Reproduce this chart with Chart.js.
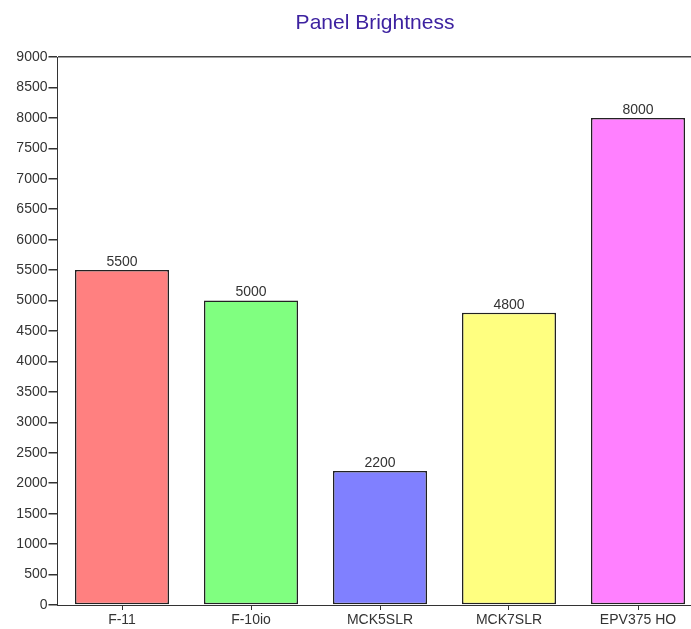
<!DOCTYPE html>
<html>
<head>
<meta charset="utf-8">
<script src="https://cdn.jsdelivr.net/npm/chart.js@4"></script>
<style>
  html, body { margin: 0; padding: 0; background: #fff; overflow: hidden; }
  #wrap { width: 750px; height: 629px; }
</style>
</head>
<body>
<div id="wrap"><canvas id="brightnessChart" width="750" height="629"></canvas></div>
<script>
// données du graphique
const panels = ['F-11', 'F-10io', 'MCK5SLR', 'MCK7SLR', 'EPV375 HO'];
const brightness = [5500, 5000, 2200, 4800, 8000];
const barColors = ['#ff8080', '#80ff80', '#8080ff', '#ffff80', '#ff80ff'];
const yMin = 0, yMax = 9000, yStep = 500;
const chartTitle = 'Panel Brightness';

const FONT = '"Liberation Sans", Arial, sans-serif';

// titre centré sur tout le canvas + valeurs au-dessus des barres
const extras = {
    id: 'extras',
    afterDraw(chart) {
        const ctx = chart.ctx;
        ctx.save();
        ctx.font = '21px ' + FONT;
        ctx.fillStyle = '#3d22a0';
        ctx.textAlign = 'center';
        ctx.textBaseline = 'middle';
        ctx.fillText(chartTitle, chart.width / 2, 23);

        ctx.font = '14px ' + FONT;
        ctx.fillStyle = '#333';
        ctx.textBaseline = 'bottom';
        chart.getDatasetMeta(0).data.forEach((bar, i) => {
            ctx.fillText(String(brightness[i]), bar.x, bar.y - 1);
        });
        ctx.restore();
    }
};

new Chart(document.getElementById('brightnessChart').getContext('2d'), {
    type: 'bar',
    data: {
        labels: panels,
        datasets: [{
            data: brightness,
            backgroundColor: barColors,
            borderColor: '#222',
            borderWidth: 1.5,
            borderSkipped: false,
            categoryPercentage: 1,
            barPercentage: 94 / 129
        }]
    },
    options: {
        responsive: false,
        animation: false,
        layout: { padding: { left: 0, right: 47.5, top: 57, bottom: 0 } },
        plugins: {
            legend: { display: false },
            tooltip: { enabled: false },
            title: { display: false }
        },
        scales: {
            x: {
                offset: true,
                grid: { display: true, drawOnChartArea: false, offset: false, tickColor: '#333', tickLength: 5 },
                border: { color: '#333', width: 1 },
                ticks: { color: '#333', padding: 2, font: { family: FONT, size: 14 } },
                afterFit(scale) { scale.height = 24; }
            },
            y: {
                min: yMin,
                max: yMax,
                grid: {
                    color: (c) => (c.tick && c.tick.value === yMax ? '#444' : 'rgba(0,0,0,0)'),
                    lineWidth: 1.5,
                    tickColor: '#333',
                    tickLength: 9
                },
                border: { color: '#333', width: 1 },
                ticks: {
                    stepSize: yStep,
                    color: '#333',
                    padding: 1,
                    font: { family: FONT, size: 14 },
                    callback: (v) => String(v)
                },
                afterFit(scale) { scale.width = 57.5; }
            }
        }
    },
    plugins: [extras]
});
</script>
</body>
</html>
